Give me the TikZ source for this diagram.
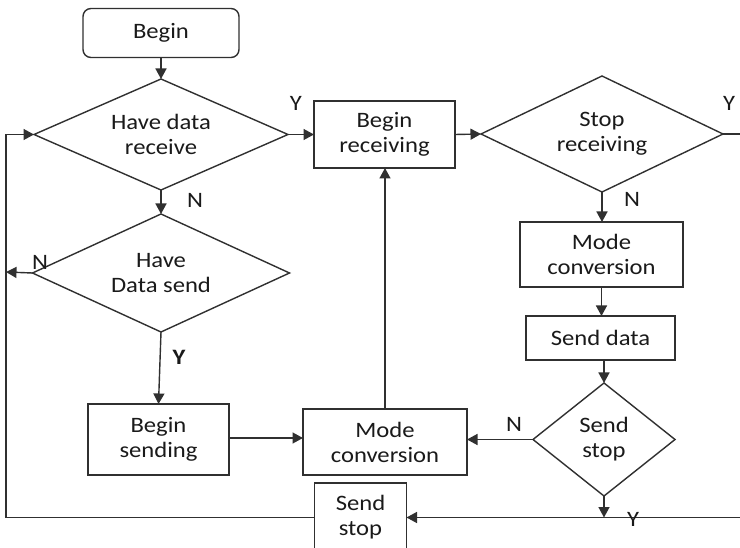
\documentclass[tikz,border=0pt]{standalone}
\usepackage{fontspec}
\setmainfont{Carlito}[FakeStretch=1.12]
\usetikzlibrary{shapes.geometric,arrows.meta,calc}
\definecolor{ln}{HTML}{303030}
\definecolor{tx}{HTML}{1A1A1A}
\begin{document}
\begin{tikzpicture}[x=1pt,y=-1pt,
  every node/.style={text=tx,font=\fontsize{22}{25}\selectfont,align=center,outer sep=0pt,inner sep=0pt},
  box/.style={draw=ln,line width=1.4pt,rectangle},
  dia/.style={draw=ln,line width=1.4pt,diamond},
  lbl/.style={font=\fontsize{22}{25}\selectfont},
  conn/.style={draw=ln,line width=1.4pt},
  arr/.style={conn,-{Triangle[length=10.5pt,width=11pt]}}]
\path[use as bounding box,clip] (0,0) rectangle (740,548);
\fill[white] (0,0) rectangle (740,548);
% nodes
\node[box,rounded corners=8pt,minimum width=156pt,minimum height=49pt] (begin) at (161,33) {Begin};
\node[dia,aspect=2.29,minimum width=254pt,minimum height=111pt] (d1) at (161,134.5) {Have data\\receive};
\node[box,minimum width=141pt,minimum height=67pt] (br) at (384.5,134.5) {Begin\\receiving};
\node[dia,aspect=2.09,minimum width=242pt,minimum height=116pt] (d2) at (602,134) {Stop\\receiving};
\node[box,minimum width=163pt,minimum height=65pt] (mc1) at (601.5,254.5) {Mode\\conversion};
\node[box,minimum width=149pt,minimum height=44pt] (sd) at (600.5,338) {Send data};
\node[dia,aspect=1.26,minimum width=142pt,minimum height=113pt] (ss) at (604,439.5) {Send\\stop};
\node[box,minimum width=164pt,minimum height=66pt] (mc2) at (385,442) {Mode\\conversion};
\node[dia,aspect=2.18,minimum width=257pt,minimum height=118pt] (d3) at (161,273) {Have\\Data send};
\node[box,minimum width=141pt,minimum height=71pt] (bs) at (158.5,439.5) {Begin\\sending};
\node[box,minimum width=92pt,minimum height=68pt] (sst) at (360.5,517) {Send\\stop};
% free ends
\coordinate (rY) at (741,134);
\coordinate (bR) at (741,517.5);
\coordinate (lb) at (6,517.5);
\coordinate (lt) at (6,134.5);
\coordinate (lm) at (6,272);
% connectors
\draw[arr] (begin.south) -- (d1.north);
\draw[arr] (d1.east) -- (br.west);
\draw[arr] (br.east) -- (d2.west);
\draw[conn] (d2.east) -- (rY);
\draw[arr] (d2.south) -- (d2.south |- mc1.north);
\draw[arr] (mc1.south) -- (mc1.south |- sd.north);
\draw[arr] (ss.north |- sd.south) -- (ss.north);
\draw[arr] (ss.west) -- (ss.west -| mc2.east);
\draw[arr] (mc2.north) -- (mc2.north |- br.south);
\draw[arr] (ss.south) -- (ss.south |- bR);
\draw[arr] (bR) -- (sst.east |- bR);
\draw[arr] (sst.west |- lb) -- (lb) -- (lt) -- (d1.west);
\draw[arr] (d1.south) -- (d3.north);
\draw[arr] (d3.west) -- (lm);
\draw[arr] (d3.south) -- (bs.north);
\draw[arr] (bs.east) ++(0,-1.5) coordinate (bse) -- (bse -| mc2.west);
% labels
\node[lbl] (y1) at (296,103) {Y};
\node[lbl] (y2) at (729,103) {Y};
\node[lbl] (n1) at (195,200) {N};
\node[lbl] (n2) at (632,199) {N};
\node[lbl] (n3) at (40,262) {N};
\node[lbl,font=\bfseries\fontsize{22}{25}\selectfont] (y3) at (179,357) {Y};
\node[lbl] (n4) at (514,424) {N};
\node[lbl] (y4) at (633,519) {Y};
\end{tikzpicture}
\end{document}
